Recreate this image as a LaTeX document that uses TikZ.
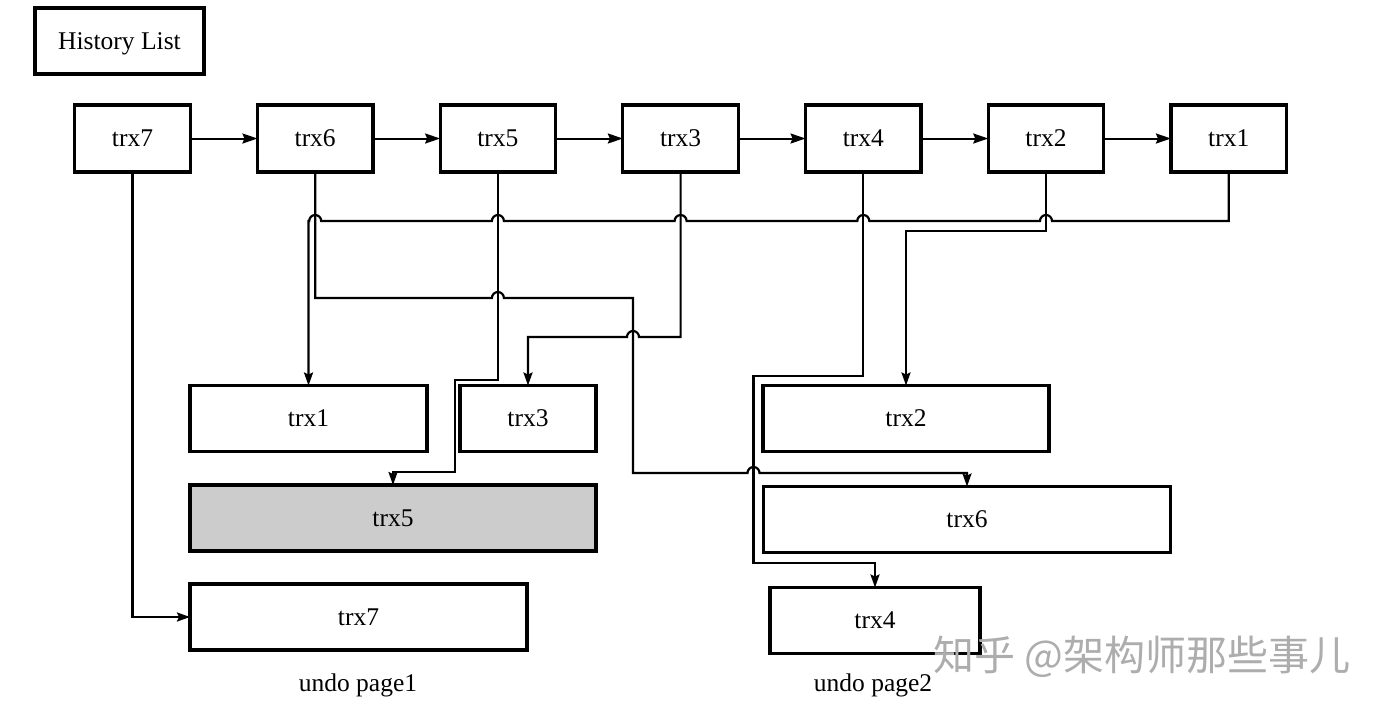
\documentclass[tikz,border=0pt]{standalone}
\usepackage{fontspec}
\setmainfont{Liberation Serif}
\newfontfamily\cjkfont{Noto Sans CJK SC}
\usetikzlibrary{positioning,arrows.meta,calc}
\tikzset{
  trx/.style={rectangle,draw=black,line width=1.6pt,outer sep=0pt,inner sep=0pt,
    minimum width=57.75pt,minimum height=33.5pt,font=\fontsize{12.75}{15}\selectfont},
  slot/.style={trx,minimum height=33pt},
  oldslot/.style={slot,fill=black!20},
  caption/.style={font=\fontsize{12.75}{15}\selectfont,inner sep=0pt},
  nxt/.style={-{Stealth[length=7.5pt,width=5pt,inset=1pt]},line width=1pt},
  link/.style={-{Stealth[length=6.5pt,width=4.5pt,inset=1pt]},line width=1.1pt},
}

\begin{document}
\begin{tikzpicture}[x=0.5pt,y=-0.5pt,node distance=33.6pt]
  \useasboundingbox (0,0) rectangle (1386,714);

  \node[trx,minimum width=84.5pt,minimum height=33pt,text depth=0pt] (hist) at (119.5,41) {History List};

  % history list
  \node[trx] (t7) at (132.5,138.5) {trx7};
  \node[trx,right=of t7] (t6) {trx6};
  \node[trx,right=of t6] (t5) {trx5};
  \node[trx,right=of t5] (t3) {trx3};
  \node[trx,right=of t3] (t4) {trx4};
  \node[trx,right=of t4] (t2) {trx2};
  \node[trx,right=of t2] (t1) {trx1};
  \foreach \a/\b in {t7/t6,t6/t5,t5/t3,t3/t4,t4/t2,t2/t1}
    \draw[nxt] (\a) -- (\b);

  % undo page1
  \node[slot,minimum width=118.5pt] (b1) at (308.5,418.5) {trx1};
  \node[slot,minimum width=68pt] (b3) at (528,418.5) {trx3};
  \node[oldslot,minimum width=203pt] (b5) at (393,518) {trx5};
  \node[slot,minimum width=168.5pt] (b7) at (358.5,617) {trx7};
  \node[caption] (p1) at (358,685) {undo page1};

  % undo page2
  \node[slot,minimum width=143pt] (b2) at (906,418.5) {trx2};
  \node[slot,minimum width=203.5pt] (b6) at (967,519.5) {trx6};
  \node[slot,minimum width=105pt] (b4) at (875,620.5) {trx4};
  \node[caption] (p2) at (873,685) {undo page2};

  \node[font=\cjkfont\fontsize{20.5}{24}\selectfont,text=black!32,inner sep=0pt] (wm) at (1142,657) {知乎 @架构师那些事儿};

  \coordinate (lvA) at (0,221);
  \coordinate (lvB) at (633,298);
  \coordinate (lvC) at (0,337);
  \coordinate (j4) at (753.5,376);

  \draw[link] (t7.south) |- (b7.west);
  \draw[link] (t1.south) -- (t1.south |- lvA)
    -- ($(t2.south |- lvA)+(3pt,0)$) arc[start angle=0,end angle=180,radius=3pt]
    -- ($(t4.south |- lvA)+(3pt,0)$) arc[start angle=0,end angle=180,radius=3pt]
    -- ($(t3.south |- lvA)+(3pt,0)$) arc[start angle=0,end angle=180,radius=3pt]
    -- ($(t5.south |- lvA)+(3pt,0)$) arc[start angle=0,end angle=180,radius=3pt]
    -- ($(t6.south |- lvA)+(3pt,0)$) arc[start angle=0,end angle=180,radius=3pt]
    -- (b1.north |- lvA) -- (b1.north);
  \draw[link] (t2.south) -- (t2.south |- 0,231) -- (b2.north |- 0,231) -- (b2.north);
  \draw[link] (t6.south) -- (t6.south |- lvB)
    -- ($(t5.south |- lvB)+(-3pt,0)$) arc[start angle=180,end angle=0,radius=3pt]
    -- (lvB) -- (lvB |- 0,473)
    -- ($(j4 |- 0,473)+(-3pt,0)$) arc[start angle=180,end angle=0,radius=3pt]
    -- (b6.north |- 0,473) -- (b6.north);
  \draw[link] (t3.south) -- (t3.south |- lvC)
    -- ($(lvB |- lvC)+(3pt,0)$) arc[start angle=0,end angle=180,radius=3pt]
    -- (b3.north |- lvC) -- (b3.north);
  \draw[link] (t5.south) -- (t5.south |- 0,380) -- (455,380) -- (455,472)
    -- (b5.north |- 0,472) -- (b5.north);
  \draw[link] (t4.south) -- (t4.south |- j4) -- (j4) -- (j4 |- 0,563)
    -- (b4.north |- 0,563) -- (b4.north);
\end{tikzpicture}
\end{document}
